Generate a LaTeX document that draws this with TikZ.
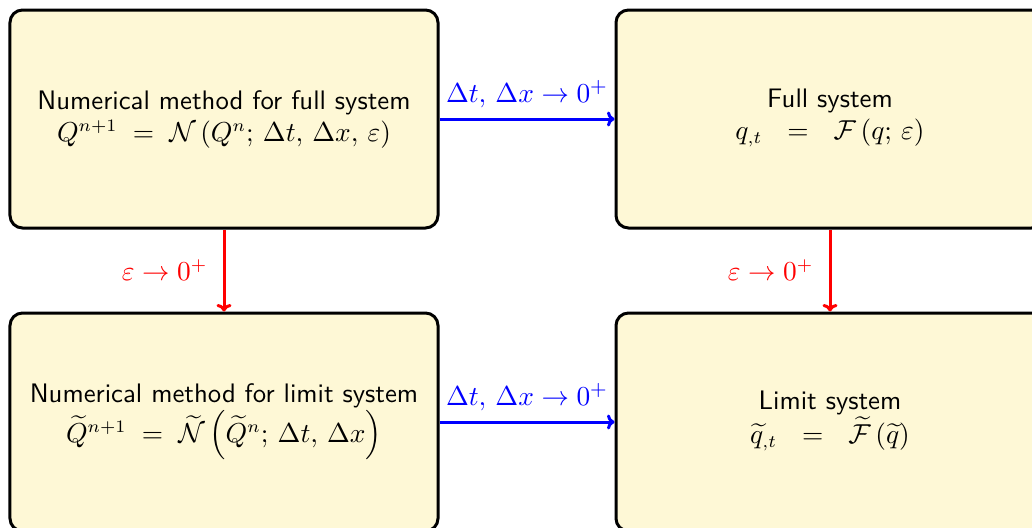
\documentclass[tikz,border=0pt]{standalone}
\usepackage{amsmath}
\usetikzlibrary{arrows.meta}
\definecolor{boxfill}{RGB}{254,248,214}
\tikzset{
  sysbox/.style={draw=black, line width=1.2pt, fill=boxfill, rounded corners=5pt,
    minimum width=171.2pt, minimum height=87.2pt, align=center,
    font=\fontsize{10.7}{12.8}\selectfont\sffamily, inner sep=0pt},
  bluearrow/.style={draw=blue, line width=1.2pt, -{To[length=3pt,width=6pt]}},
  redarrow/.style={draw=red, line width=1.2pt, -{To[length=3pt,width=6pt]}},
  bluelabel/.style={text=blue, above, inner sep=4pt, font=\fontsize{10.9}{13}\selectfont},
  redlabel/.style={text=red, left, inner sep=6pt, font=\fontsize{10.7}{13}\selectfont}
}
\begin{document}
\begin{tikzpicture}[x=0.4pt, y=-0.4pt]
\useasboundingbox (0,0) rectangle (1032,527);
\clip (0,0) rectangle (1032,527);
\node[sysbox] (nf) at (224,119) {Numerical method for full system\\
  $Q^{n+1} \;=\; \mathcal{N}\left(Q^n;\, \Delta t,\, \Delta x,\, \varepsilon\right)$};
\node[sysbox] (fs) at (830,119) {Full system\\
  $\begin{array}{@{}rcl@{}} q_{,t} & = & \mathcal{F}\left(q;\, \varepsilon\right)\end{array}$};
\node[sysbox] (nl) at (224,422) {Numerical method for limit system\\
  $\widetilde{Q}^{n+1} \;=\; \widetilde{\mathcal{N}}\left(\widetilde{Q}^n;\, \Delta t,\, \Delta x\right)$};
\node[sysbox] (ls) at (830,422) {Limit system\\
  $\begin{array}{@{}rcl@{}} \widetilde{q}_{,t} & = & \widetilde{\mathcal{F}}\left(\widetilde{q}\right)\end{array}$};
\draw[bluearrow] (nf.east) -- node[bluelabel] {$\Delta t,\, \Delta x \to 0^+$} (fs.west);
\draw[bluearrow] (nl.east) -- node[bluelabel] {$\Delta t,\, \Delta x \to 0^+$} (ls.west);
\draw[redarrow] (nf.south) -- node[redlabel] {$\varepsilon \to 0^+$} (nl.north);
\draw[redarrow] (fs.south) -- node[redlabel] {$\varepsilon \to 0^+$} (ls.north);
\end{tikzpicture}
\end{document}
